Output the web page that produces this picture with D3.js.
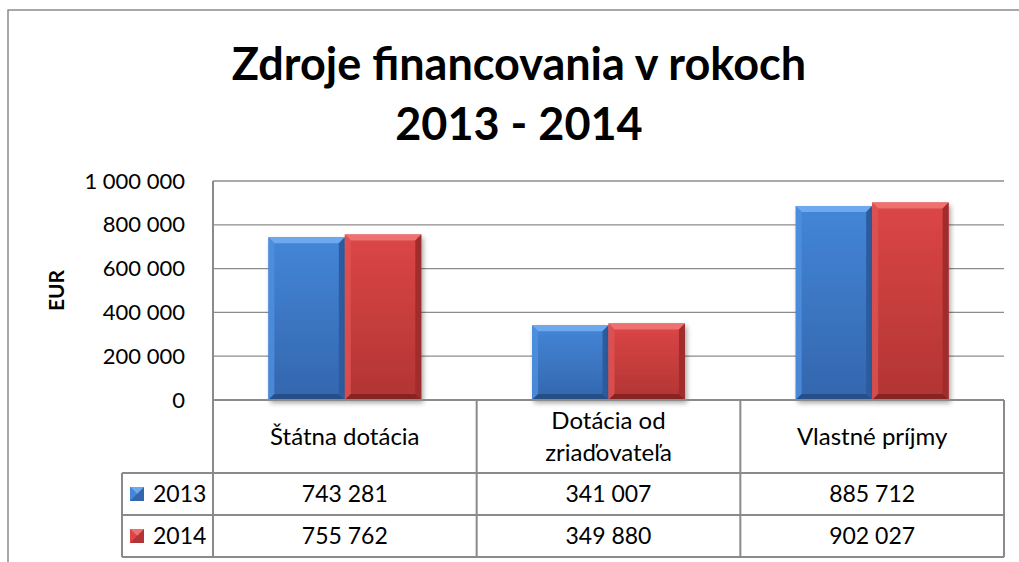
<!DOCTYPE html>
<html>
<head>
<meta charset="utf-8">
<style>
  body { margin: 0; background: #fff; }
  svg { display: block; font-family: Lato, "Open Sans", sans-serif; }
  .grid line { stroke: #8c8c8c; stroke-width: 1.3px; }
  .tbl { stroke: #8a8a8a; stroke-width: 2px; fill: none; }
  .cell { font-size: 23px; fill: #000; text-anchor: middle; }
  .cat { font-size: 24px; }
</style>
</head>
<body>
<script src="https://cdn.jsdelivr.net/npm/d3@7"></script>
<script>
// data
var categories = ["Štátna dotácia", "Dotácia od\nzriaďovateľa", "Vlastné príjmy"];
var years = ["2013", "2014"];
var values2013 = [743281, 341007, 885712];
var values2014 = [755762, 349880, 902027];
var yTicks = [0, 200000, 400000, 600000, 800000, 1000000];

var W = 1019, H = 562;
var plot = { left: 213, right: 1004, top: 181, bottom: 400 };
var rows = [473, 515, 557];      // bottom edge of label row, 2013 row, 2014 row
var legendLeft = 122;

var series = [
  { name: years[0], values: values2013, c: { top: "#6ea9ee", main1: "#4486d8", main2: "#3366ad", left: "#4f90e0", right: "#2c5c9e", bottom: "#264f88" } },
  { name: years[1], values: values2014, c: { top: "#ee7070", main1: "#dc4646", main2: "#b23434", left: "#e05252", right: "#a02c2c", bottom: "#862424" } }
];

var fmt = d3.formatLocale({ decimal: ",", thousands: " ", grouping: [3], currency: ["", " €"] }).format(",");

var svg = d3.select("body").append("svg").attr("width", W).attr("height", H);
var defs = svg.append("defs");

// soft shadow under the bars
var f = defs.append("filter").attr("id", "shadow").attr("x", "-20%").attr("y", "-20%").attr("width", "140%").attr("height", "140%");
f.append("feDropShadow").attr("dx", 2).attr("dy", 3).attr("stdDeviation", 2.5).attr("flood-color", "#000").attr("flood-opacity", 0.35);

series.forEach(function (s, i) {
  var g = defs.append("linearGradient").attr("id", "grad" + i).attr("x1", 0).attr("y1", 0).attr("x2", 0).attr("y2", 1);
  g.append("stop").attr("offset", "0%").attr("stop-color", s.c.main1);
  g.append("stop").attr("offset", "100%").attr("stop-color", s.c.main2);
});

// outer frame (cropped at right / bottom)
svg.append("path").attr("d", "M8," + H + "V10H" + W).attr("fill", "none").attr("stroke", "#8c8c8c").attr("stroke-width", 1.5);

// title
var title = svg.append("text").attr("text-anchor", "middle").style("font-weight", "bold").style("font-size", "45px");
title.append("tspan").attr("x", 519).attr("y", 80).text("Zdroje financovania v rokoch");
title.append("tspan").attr("x", 519).attr("y", 140).text("2013 - 2014");

// scales
var x0 = d3.scaleBand().domain(categories).range([plot.left, plot.right]).padding(0);
var x1 = d3.scaleBand().domain(years).range([x0.bandwidth() * 0.21, x0.bandwidth() * 0.79]).padding(0);
var y = d3.scaleLinear().domain([0, 1000000]).range([plot.bottom, plot.top]);

// gridlines
svg.append("g").attr("class", "grid")
  .selectAll("line").data(yTicks.slice(1)).join("line")
  .attr("x1", plot.left).attr("x2", plot.right)
  .attr("y1", function (d) { return y(d); }).attr("y2", function (d) { return y(d); });

// y axis labels
var yAxis = svg.append("g").attr("transform", "translate(" + plot.left + ",0)")
  .call(d3.axisLeft(y).tickValues(yTicks).tickFormat(fmt).tickSize(0).tickPadding(28));
yAxis.select(".domain").remove();
yAxis.selectAll("text").style("font-family", "Lato, sans-serif").style("font-size", "22px").attr("fill", "#000");

svg.append("text")
  .attr("transform", "translate(64," + (plot.top + plot.bottom) / 2 + ") rotate(-90)")
  .attr("text-anchor", "middle")
  .style("font-weight", "bold").style("font-size", "21px")
  .text("EUR");

// bars with bevel
var bev = 6;
series.forEach(function (s, i) {
  var gs = svg.append("g");
  categories.forEach(function (cat, j) {
    var bx = x0(cat) + x1(s.name), bw = x1.bandwidth();
    var by = y(s.values[j]), bh = y(0) - by;
    var b = gs.append("g");
    b.append("rect").attr("x", bx).attr("y", by).attr("width", bw).attr("height", bh)
      .attr("fill", "url(#grad" + i + ")").attr("filter", "url(#shadow)");
    var pts = function (arr) { return arr.map(function (p) { return p.join(","); }).join(" "); };
    b.append("polygon").attr("fill", s.c.top).attr("points", pts([[bx, by], [bx + bw, by], [bx + bw - bev, by + bev], [bx + bev, by + bev]]));
    b.append("polygon").attr("fill", s.c.left).attr("opacity", 0.8).attr("points", pts([[bx, by], [bx + bev, by + bev], [bx + bev, by + bh - bev], [bx, by + bh]]));
    b.append("polygon").attr("fill", s.c.right).attr("points", pts([[bx + bw, by], [bx + bw, by + bh], [bx + bw - bev, by + bh - bev], [bx + bw - bev, by + bev]]));
    b.append("polygon").attr("fill", s.c.bottom).attr("points", pts([[bx, by + bh], [bx + bev, by + bh - bev], [bx + bw - bev, by + bh - bev], [bx + bw, by + bh]]));
  });
});

// data table
var tbl = svg.append("g");
// horizontal lines
tbl.append("line").attr("class", "tbl").attr("x1", plot.left).attr("x2", plot.right).attr("y1", plot.bottom).attr("y2", plot.bottom);
rows.forEach(function (ry) {
  tbl.append("line").attr("class", "tbl").attr("x1", legendLeft).attr("x2", plot.right).attr("y1", ry).attr("y2", ry);
});
// vertical lines
tbl.append("line").attr("class", "tbl").attr("x1", plot.left).attr("x2", plot.left).attr("y1", plot.top).attr("y2", rows[2]);
tbl.append("line").attr("class", "tbl").attr("x1", legendLeft).attr("x2", legendLeft).attr("y1", rows[0]).attr("y2", rows[2]);
categories.forEach(function (cat) {
  var xr = x0(cat) + x0.bandwidth();
  tbl.append("line").attr("class", "tbl").attr("x1", xr).attr("x2", xr).attr("y1", plot.bottom).attr("y2", rows[2]);
});

// category labels
categories.forEach(function (cat) {
  var lines = cat.split("\n");
  var cx = x0(cat) + x0.bandwidth() / 2;
  var cy = (plot.bottom + rows[0]) / 2;
  var t = tbl.append("text").attr("class", "cell cat");
  lines.forEach(function (ln, k) {
    t.append("tspan").attr("x", cx).attr("y", cy + 8 + (k - (lines.length - 1) / 2) * 32).text(ln);
  });
});

// value rows + legend keys
series.forEach(function (s, i) {
  var top = rows[i], bot = rows[i + 1];
  var cy = (top + bot) / 2;
  categories.forEach(function (cat, j) {
    tbl.append("text").attr("class", "cell")
      .attr("x", x0(cat) + x0.bandwidth() / 2).attr("y", cy + 8)
      .text(fmt(s.values[j]));
  });
  var kx = 130, ky = cy - 7, ks = 14;
  tbl.append("rect").attr("x", kx).attr("y", ky).attr("width", ks).attr("height", ks).attr("fill", s.c.main2);
  tbl.append("polygon").attr("fill", s.c.top)
    .attr("points", [[kx, ky], [kx + ks, ky], [kx + ks / 2, ky + ks / 2]].map(function (p) { return p.join(","); }).join(" "));
  tbl.append("polygon").attr("fill", s.c.main1)
    .attr("points", [[kx, ky], [kx + ks / 2, ky + ks / 2], [kx, ky + ks]].map(function (p) { return p.join(","); }).join(" "));
  tbl.append("text").attr("class", "cell").style("text-anchor", "start")
    .attr("x", 153).attr("y", cy + 8).text(s.name);
});
</script>
</body>
</html>
